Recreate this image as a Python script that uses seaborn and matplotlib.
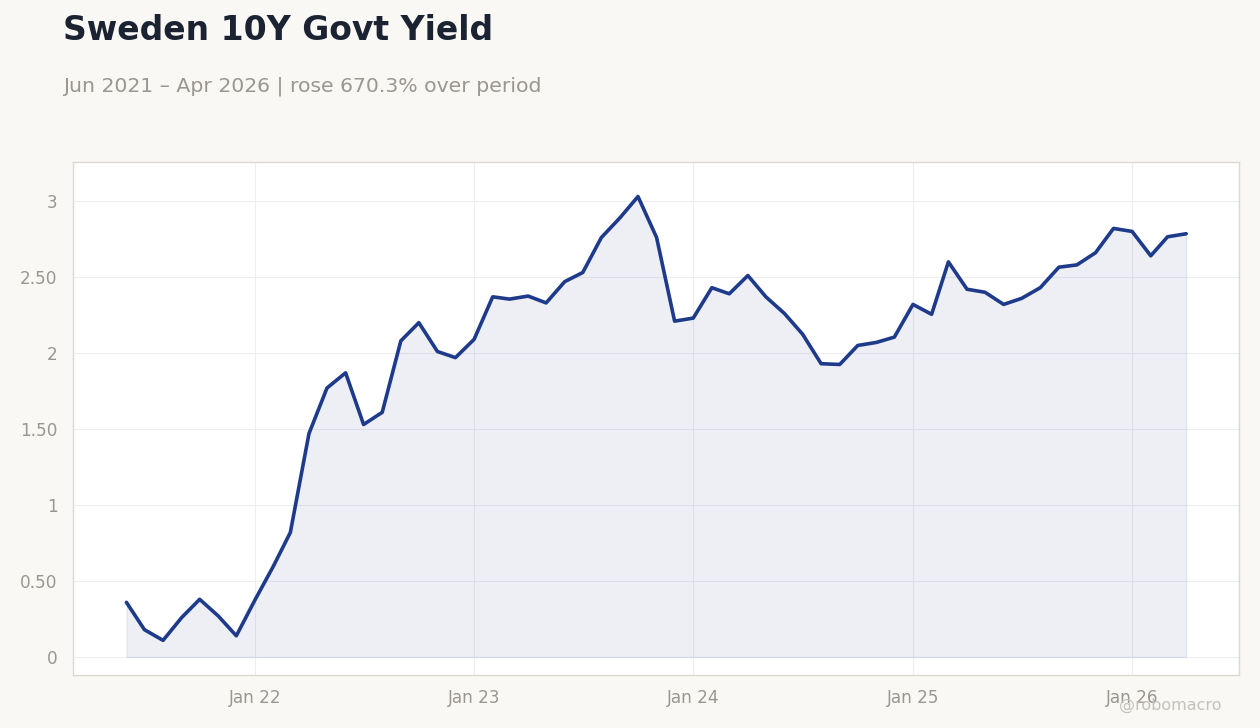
import numpy as np
import pandas as pd
import matplotlib
matplotlib.use("Agg")
import matplotlib.pyplot as plt
import seaborn as sns

# ---- data ----
start_month = "2021-06-01"
n_months = 59
yields = [
    0.36, 0.18, 0.11, 0.26, 0.38, 0.27, 0.14,            # Jun-Dec 2021
    0.375, 0.60, 0.82, 1.47, 1.77, 1.87, 1.53, 1.61, 2.08, 2.20, 2.01, 1.97,  # 2022
    2.09, 2.37, 2.355, 2.375, 2.33, 2.47, 2.53, 2.76, 2.89, 3.03, 2.76, 2.21,  # 2023
    2.23, 2.43, 2.39, 2.51, 2.37, 2.26, 2.125, 1.93, 1.925, 2.05, 2.07, 2.105,  # 2024
    2.32, 2.255, 2.60, 2.42, 2.40, 2.32, 2.36, 2.43, 2.565, 2.58, 2.66, 2.82,  # 2025
    2.80, 2.64, 2.765, 2.785,                               # Jan-Apr 2026
]
y_ticks = [0, 0.5, 1, 1.5, 2, 2.5, 3]
y_tick_labels = ["0", "0.50", "1", "1.50", "2", "2.50", "3"]
x_ticks = ["2022-01-01", "2023-01-01", "2024-01-01", "2025-01-01", "2026-01-01"]
x_tick_labels = ["Jan 22", "Jan 23", "Jan 24", "Jan 25", "Jan 26"]
title = "Sweden 10Y Govt Yield"
subtitle = "Jun 2021 \u2013 Apr 2026 | rose 670.3% over period"
watermark = "@robomacro"

dates = pd.date_range(start_month, periods=n_months, freq="MS")
df = pd.DataFrame({"date": dates, "yield": yields})

# ---- style ----
sns.set_style("whitegrid")
plt.rcParams["font.family"] = ["DejaVu Sans"]

BG = "#f9f8f5"
LINE = "#1e3a8a"
TICK = "#9a9690"

fig = plt.figure(figsize=(12.6, 7.28), dpi=100, facecolor=BG)
ax = fig.add_axes([73 / 1260, 1 - 675 / 728, (1239 - 73) / 1260, (675 - 162) / 728])
ax.set_facecolor("white")

ax.fill_between(df["date"], 0, df["yield"], color=LINE, alpha=0.08,
                edgecolor=LINE, linewidth=1.0)
sns.lineplot(data=df, x="date", y="yield", ax=ax, color=LINE, linewidth=2.6)

# limits
x0 = pd.Timestamp("2021-03-04")
x1 = pd.Timestamp("2026-06-28")
ax.set_xlim(x0, x1)
ax.set_ylim(-0.118, 3.257)

ax.set_yticks(y_ticks)
ax.set_yticklabels(y_tick_labels)
ax.set_xticks(pd.to_datetime(x_ticks))
ax.set_xticklabels(x_tick_labels)

ax.set_xlabel("")
ax.set_ylabel("")
ax.grid(True, color="#eeeeee", linewidth=0.8)
for s in ax.spines.values():
    s.set_visible(True)
    s.set_color("#dcd9d3")
    s.set_linewidth(1.0)
ax.tick_params(axis="both", colors="#b0aca6", labelcolor=TICK, labelsize=12.2,
               length=5, width=1)
ax.tick_params(axis="x", pad=5)
ax.tick_params(axis="y", pad=6)

fig.text(63 / 1260, 1 - 31 / 728, title, fontsize=23.8, fontweight="bold",
         color="#1b2333", va="center", ha="left")
fig.text(63 / 1260, 1 - 86 / 728, subtitle, fontsize=14.65, color="#9a9690",
         va="center", ha="left")
fig.text(1222 / 1260, 1 - 705 / 728, watermark, fontsize=11.5, color="#c4c1bc",
         va="center", ha="right")

fig.savefig("out.png", dpi=100, facecolor=BG)
